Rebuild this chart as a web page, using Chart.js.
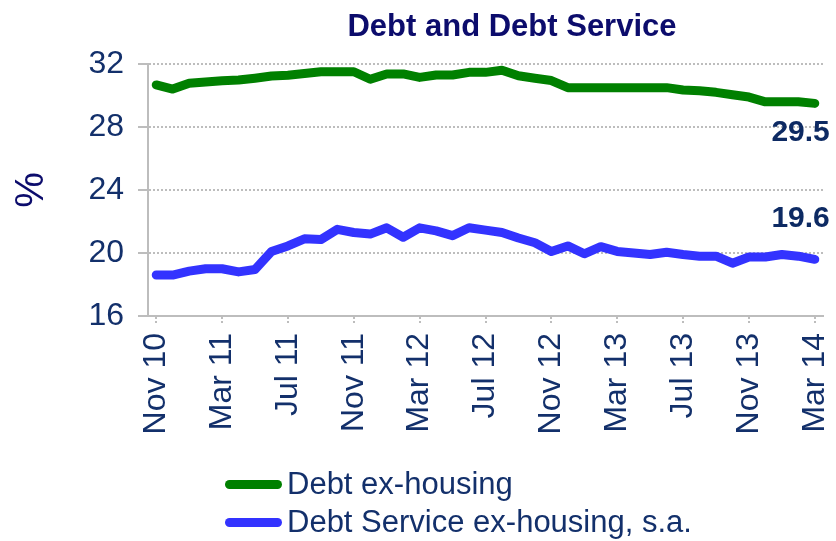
<!DOCTYPE html>
<html>
<head>
<meta charset="utf-8">
<script src="https://cdn.jsdelivr.net/npm/chart.js@4.4.1/dist/chart.umd.min.js"></script>
<style>
  body { margin: 0; background: #fff; }
  #wrap { position: relative; width: 836px; height: 541px; font-family: "Liberation Sans", Arial, sans-serif; }
  #title { position: absolute; left: 512px; top: 10px; transform: translateX(-50%); font-weight: bold; font-size: 31px; line-height: 31px; color: #0c0c6c; white-space: nowrap; }
  #legend { position: absolute; left: 225px; top: 465px; }
  .row { display: flex; align-items: center; height: 38px; }
  .swatch { width: 57px; height: 9px; border-radius: 5px; margin-right: 5px; }
  .row span { font-size: 31px; color: #13306b; white-space: nowrap; }
</style>
</head>
<body>
<div id="wrap">
  <canvas id="myChart" width="836" height="541"></canvas>
  <div id="title">Debt and Debt Service</div>
  <div id="legend"></div>
</div>
<script>
// monthly, Nov 10 .. Mar 14
const months = ['Nov 10','Dec 10','Jan 11','Feb 11','Mar 11','Apr 11','May 11','Jun 11','Jul 11','Aug 11','Sep 11','Oct 11',
  'Nov 11','Dec 11','Jan 12','Feb 12','Mar 12','Apr 12','May 12','Jun 12','Jul 12','Aug 12','Sep 12','Oct 12',
  'Nov 12','Dec 12','Jan 13','Feb 13','Mar 13','Apr 13','May 13','Jun 13','Jul 13','Aug 13','Sep 13','Oct 13',
  'Nov 13','Dec 13','Jan 14','Feb 14','Mar 14'];

const debtExHousing = [30.67,30.41,30.78,30.86,30.94,30.98,31.1,31.24,31.28,31.4,31.51,31.51,31.51,31.03,31.37,31.37,31.15,31.3,31.3,31.47,
  31.47,31.6,31.25,31.1,30.95,30.5,30.5,30.5,30.5,30.5,30.5,30.5,30.35,30.3,30.2,30.05,29.9,29.6,29.6,29.6,29.5];

const debtServiceExHousing = [18.6,18.6,18.85,19.0,19.0,18.8,18.95,20.1,20.45,20.9,20.85,21.5,21.3,21.2,21.6,21.0,21.6,21.4,21.1,21.6,
  21.45,21.3,20.95,20.65,20.1,20.45,19.95,20.4,20.1,20.0,19.9,20.05,19.9,19.8,19.8,19.35,19.75,19.75,19.9,19.8,19.6];

const yTicks = [16, 20, 24, 28, 32];

const gridColor = '#bdbdbd';
const textColor = '#13306b';
const FONT = '"Liberation Sans", Arial, sans-serif';

// writes the last value next to the end of each line
const endLabels = {
	id: 'endLabels',
	afterDatasetsDraw(chart) {
		const c = chart.ctx;
		c.save();
		c.font = 'bold 30px ' + FONT;
		c.fillStyle = '#0d2a63';
		c.textAlign = 'right';
		chart.data.datasets.forEach((ds, i) => {
			const meta = chart.getDatasetMeta(i);
			const pt = meta.data[meta.data.length - 1];
			const v = ds.data[ds.data.length - 1];
			if (ds.endLabel === 'below') {
				c.textBaseline = 'top';
				c.fillText(v.toFixed(1), pt.x + 15, pt.y + 14);
			} else {
				c.textBaseline = 'bottom';
				c.fillText(v.toFixed(1), pt.x + 15, pt.y - 26);
			}
		});
		c.restore();
	}
};

const ctx = document.getElementById('myChart').getContext('2d');
const myChart = new Chart(ctx, {
	type: 'line',
	data: {
		labels: months,
		datasets: [{
			label: 'Debt ex-housing',
			data: debtExHousing,
			borderColor: '#008000',
			borderWidth: 9,
			pointRadius: 0,
			borderCapStyle: 'round',
			borderJoinStyle: 'round',
			endLabel: 'below'
		}, {
			label: 'Debt Service ex-housing, s.a.',
			data: debtServiceExHousing,
			borderColor: '#3333ff',
			borderWidth: 9,
			pointRadius: 0,
			borderCapStyle: 'round',
			borderJoinStyle: 'round',
			endLabel: 'above'
		}]
	},
	options: {
		responsive: false,
		animation: false,
		layout: { padding: { top: 64, right: 13, left: 0, bottom: 0 } },
		plugins: {
			legend: { display: false },
			title: { display: false },
			tooltip: { enabled: false }
		},
		scales: {
			x: {
				offset: true,
				afterFit: (s) => { s.height = 225; s.paddingLeft = 0; s.paddingRight = 0; },
				grid: {
					drawOnChartArea: false,
					color: gridColor,
					lineWidth: 2,
					tickLength: 9,
					tickBorderDash: [2, 2]
				},
				border: { color: gridColor, width: 2, dash: [2, 2] },
				ticks: {
					autoSkip: false,
					minRotation: 90,
					maxRotation: 90,
					padding: 8,
					color: textColor,
					font: { family: FONT, size: 32 },
					callback: (v, i) => (i % 4 === 0 ? months[i] : null)
				}
			},
			y: {
				min: yTicks[0],
				max: yTicks[yTicks.length - 1],
				afterFit: (s) => { s.width = 148; },
				afterBuildTicks: (s) => { s.ticks = yTicks.map(v => ({ value: v })); },
				grid: {
					color: gridColor,
					lineWidth: 2,
					tickLength: 10,
					borderDash: [2, 2]
				},
				border: { color: gridColor, width: 2, dash: [2, 2] },
				ticks: {
					padding: 14,
					color: textColor,
					font: { family: FONT, size: 32 }
				},
				title: {
					display: true,
					text: '%',
					color: '#0c0c6c',
					font: { family: FONT, size: 40, lineHeight: 1 },
					padding: { top: 12, bottom: 0 }
				}
			}
		}
	},
	plugins: [endLabels]
});

// legend built from the datasets
const leg = document.getElementById('legend');
myChart.data.datasets.forEach(ds => {
	const row = document.createElement('div');
	row.className = 'row';
	const sw = document.createElement('div');
	sw.className = 'swatch';
	sw.style.background = ds.borderColor;
	const txt = document.createElement('span');
	txt.textContent = ds.label;
	row.appendChild(sw);
	row.appendChild(txt);
	leg.appendChild(row);
});
</script>
</body>
</html>
